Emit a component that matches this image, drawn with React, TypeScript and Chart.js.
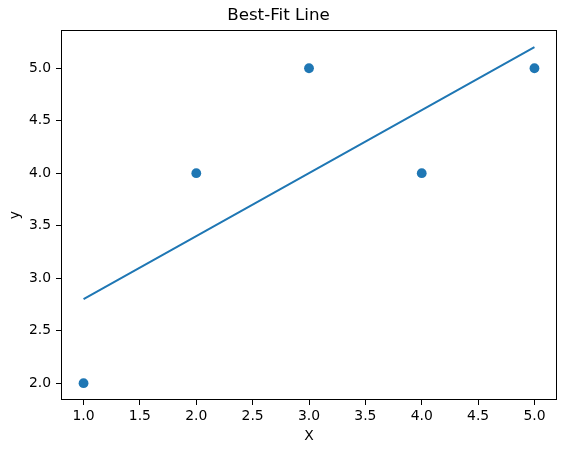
import React, { useEffect, useRef } from "react";
import { Chart, registerables } from "chart.js";

Chart.register(...registerables);

const pointX = [1, 2, 3, 4, 5];
const pointY = [2, 4, 5, 4, 5];
const fitY = [2.8, 3.4, 4.0, 4.6, 5.2];
const xTicks = [1.0, 1.5, 2.0, 2.5, 3.0, 3.5, 4.0, 4.5, 5.0];
const yTicks = [2.0, 2.5, 3.0, 3.5, 4.0, 4.5, 5.0];

const BLUE = "#1f77b4";
const FONT = "'DejaVu Sans', sans-serif";

const framePlugin = {
  id: "frame",
  afterDraw(chart: any) {
    const { ctx, chartArea } = chart;
    ctx.save();
    ctx.strokeStyle = "#000";
    ctx.lineWidth = 1;
    ctx.strokeRect(
      Math.round(chartArea.left) + 0.5,
      Math.round(chartArea.top) + 0.5,
      Math.round(chartArea.right - chartArea.left) - 1,
      Math.round(chartArea.bottom - chartArea.top) - 1
    );
    ctx.restore();
  },
};

export default function App() {
  const ref = useRef<HTMLCanvasElement | null>(null);
  useEffect(() => {
    if (!ref.current) return;
    const chart = new Chart(ref.current, {
      type: "scatter",
      data: {
        datasets: [
          {
            type: "line",
            data: pointX.map((x, i) => ({ x, y: fitY[i] })),
            borderColor: BLUE,
            borderWidth: 2,
            pointRadius: 0,
            fill: false,
            order: 2,
          } as any,
          {
            type: "scatter",
            data: pointX.map((x, i) => ({ x, y: pointY[i] })),
            backgroundColor: BLUE,
            borderColor: BLUE,
            pointRadius: 4.9,
            borderWidth: 0,
            order: 1,
          },
        ],
      },
      options: {
        responsive: false,
        animation: false,
        devicePixelRatio: 1,
        layout: { padding: { left: 0, right: 10, top: 0, bottom: 0 } },
        plugins: {
          legend: { display: false },
          tooltip: { enabled: false },
          title: {
            display: true,
            text: "Best-Fit Line",
            color: "#000",
            font: { family: FONT, size: 16.7, weight: "normal", lineHeight: 1.2 },
            padding: { top: 6, bottom: 4.4 },
          },
        },
        scales: {
          x: {
            type: "linear",
            min: 0.8,
            max: 5.2,
            afterBuildTicks: (s: any) => {
              s.ticks = xTicks.map((v) => ({ value: v }));
            },
            afterFit: (s: any) => {
              s.height = 53;
            },
            grid: {
              display: true,
              drawOnChartArea: false,
              drawTicks: true,
              tickLength: 5,
              tickColor: "#000",
              color: "#000",
            },
            border: { display: false },
            ticks: {
              color: "#000",
              padding: 3,
              maxRotation: 0,
              autoSkip: false,
              font: { family: FONT, size: 13.9 },
              callback: (v: any) => Number(v).toFixed(1),
            },
            title: {
              display: true,
              text: "X",
              color: "#000",
              font: { family: FONT, size: 13.9, lineHeight: 1.2 },
              padding: { top: 0, bottom: 8.7 },
            },
          },
          y: {
            type: "linear",
            min: 1.84,
            max: 5.36,
            afterBuildTicks: (s: any) => {
              s.ticks = yTicks.map((v) => ({ value: v }));
            },
            afterFit: (s: any) => {
              s.width = 61;
            },
            grid: {
              display: true,
              drawOnChartArea: false,
              drawTicks: true,
              tickLength: 5,
              tickColor: "#000",
              color: "#000",
            },
            border: { display: false },
            ticks: {
              color: "#000",
              padding: 5,
              autoSkip: false,
              font: { family: FONT, size: 13.9 },
              callback: (v: any) => Number(v).toFixed(1),
            },
            title: {
              display: true,
              text: "y",
              color: "#000",
              font: { family: FONT, size: 13.9, lineHeight: 1.2 },
              padding: { top: 6.7, bottom: 0 },
            },
          },
        },
      },
      plugins: [framePlugin],
    });
    return () => chart.destroy();
  }, []);
  return (
    <div style={{ position: "absolute", left: 0, top: 0, width: 567, height: 453, background: "#fff" }}>
      <canvas ref={ref} width={567} height={453} style={{ width: 567, height: 453 }} />
    </div>
  );
}
